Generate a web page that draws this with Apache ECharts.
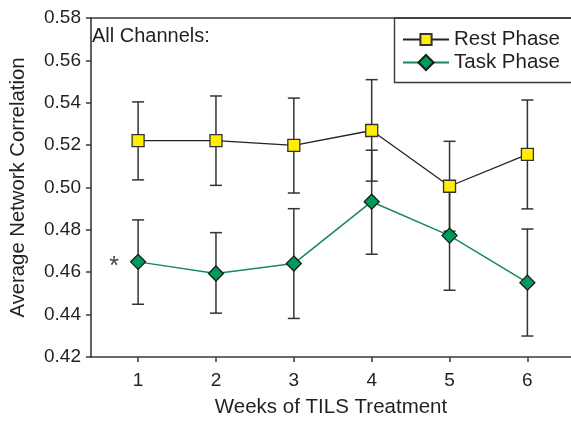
<!DOCTYPE html>
<html><head><meta charset="utf-8">
<script src="https://cdn.jsdelivr.net/npm/echarts@6/dist/echarts.min.js"></script>
<style>html,body{margin:0;padding:0;background:#fff}#c{width:571px;height:423px}</style>
</head><body><div id="c"></div>
<script>
var weeks = [1, 2, 3, 4, 5, 6];
var restMean = [0.5221, 0.5221, 0.5199, 0.5269, 0.5006, 0.5156];
var restLow  = [0.5036, 0.5010, 0.4974, 0.5030, 0.4794, 0.4899];
var restHigh = [0.5404, 0.5432, 0.5422, 0.5509, 0.5218, 0.5413];
var taskMean = [0.4649, 0.4594, 0.4641, 0.4933, 0.4773, 0.4551];
var taskLow  = [0.4449, 0.4407, 0.4382, 0.4685, 0.4515, 0.4299];
var taskHigh = [0.4847, 0.4787, 0.4900, 0.5176, 0.5030, 0.4804];
var yTicks = [0.42, 0.44, 0.46, 0.48, 0.50, 0.52, 0.54, 0.56, 0.58];

var FONT = 'Liberation Sans, Arial, sans-serif';
var TXT = '#231f20';
var AX = '#3a3a3a';

function pairs(m){ return weeks.map(function(w,i){ return [w, m[i]]; }); }
function errData(lo, hi){ return weeks.map(function(w,i){ return [w, lo[i], hi[i]]; }); }
function errRender(params, api){
  var x = api.value(0);
  var p1 = api.coord([x, api.value(1)]);
  var p2 = api.coord([x, api.value(2)]);
  var hw = 6;
  var st = {stroke: '#333', lineWidth: 1.5};
  return {type: 'group', children: [
    {type:'line', shape:{x1:p1[0], y1:p1[1], x2:p2[0], y2:p2[1]}, style: st},
    {type:'line', shape:{x1:p1[0]-hw, y1:p1[1], x2:p1[0]+hw, y2:p1[1]}, style: st},
    {type:'line', shape:{x1:p2[0]-hw, y1:p2[1], x2:p2[0]+hw, y2:p2[1]}, style: st}
  ]};
}

var taskData = pairs(taskMean).map(function(p, i){
  if (i === 0) return {value: p, label: {show: true, formatter: '*', position: 'left', distance: 11, fontSize: 25, color: '#444', fontFamily: FONT, offset:[0,5]}};
  return p;
});

var legendText = {fontSize: 20.5, color: TXT, fontFamily: FONT};

var chart = echarts.init(document.getElementById('c'));
chart.setOption({
  animation: false,
  textStyle: {fontFamily: FONT},
  grid: {left: 82, right: 0, top: 18, bottom: 61},
  legend: [{
    data: ['Rest Phase'], left: 402, top: 29, padding: 0,
    itemWidth: 46, itemHeight: 14, textStyle: legendText
  }, {
    data: ['Task Phase'], left: 402, top: 52, padding: 0,
    itemWidth: 46, itemHeight: 19, textStyle: legendText
  }],
  graphic: [
    {type:'text', left: 92, top: 26, style:{text:'All Channels:', font: '20px ' + FONT, fill: TXT}},
    {type:'rect', shape:{x: 394.5, y: 18, width: 190, height: 64.5}, style:{fill: 'none', stroke: AX, lineWidth: 1.4}, z: 10}
  ],
  xAxis: [{
    type: 'value', min: 0.395, max: 6.56,
    name: 'Weeks of TILS Treatment', nameLocation: 'middle', nameGap: 40,
    nameTextStyle: {fontSize: 20.5, color: TXT, fontFamily: FONT},
    axisLine: {show: true, lineStyle: {color: AX, width: 1.6}},
    axisTick: {show: true, length: 5, lineStyle: {color: AX, width: 1.5}, customValues: weeks},
    axisLabel: {fontSize: 19, color: TXT, margin: 14, customValues: weeks},
    splitLine: {show: false}
  }, {
    type: 'value', position: 'top', min: 0.395, max: 6.56,
    axisLine: {show: true, lineStyle: {color: AX, width: 1.6}},
    axisTick: {show: false}, axisLabel: {show: false}, splitLine: {show: false}
  }],
  yAxis: {
    type: 'value', min: 0.42, max: 0.58, interval: 0.02,
    name: 'Average Network Correlation', nameLocation: 'middle', nameGap: 63,
    nameTextStyle: {fontSize: 20.3, color: TXT, fontFamily: FONT},
    axisLine: {show: true, lineStyle: {color: AX, width: 1.6}},
    axisTick: {show: true, length: 5, lineStyle: {color: AX, width: 1.5}},
    axisLabel: {fontSize: 19, color: TXT, margin: 10, formatter: function(v){ return v.toFixed(2); }},
    splitLine: {show: false}
  },
  series: [
    {type:'custom', name:'restErr', renderItem: errRender, data: errData(restLow, restHigh), z: 1, silent: true},
    {type:'custom', name:'taskErr', renderItem: errRender, data: errData(taskLow, taskHigh), z: 1, silent: true},
    {type:'line', name:'Rest Phase', data: pairs(restMean), symbol:'rect', symbolSize: 12,
      lineStyle:{color:'#222', width:1.3}, itemStyle:{color:'#ffee00', borderColor:'#333', borderWidth:1.3}, z: 3},
    {type:'line', name:'Task Phase', data: taskData, symbol:'diamond', symbolSize: [15, 15],
      lineStyle:{color:'#168a55', width:1.5}, itemStyle:{color:'#009a5a', borderColor:'#1a1a1a', borderWidth:1.3}, z: 3}
  ]
});
</script></body></html>
